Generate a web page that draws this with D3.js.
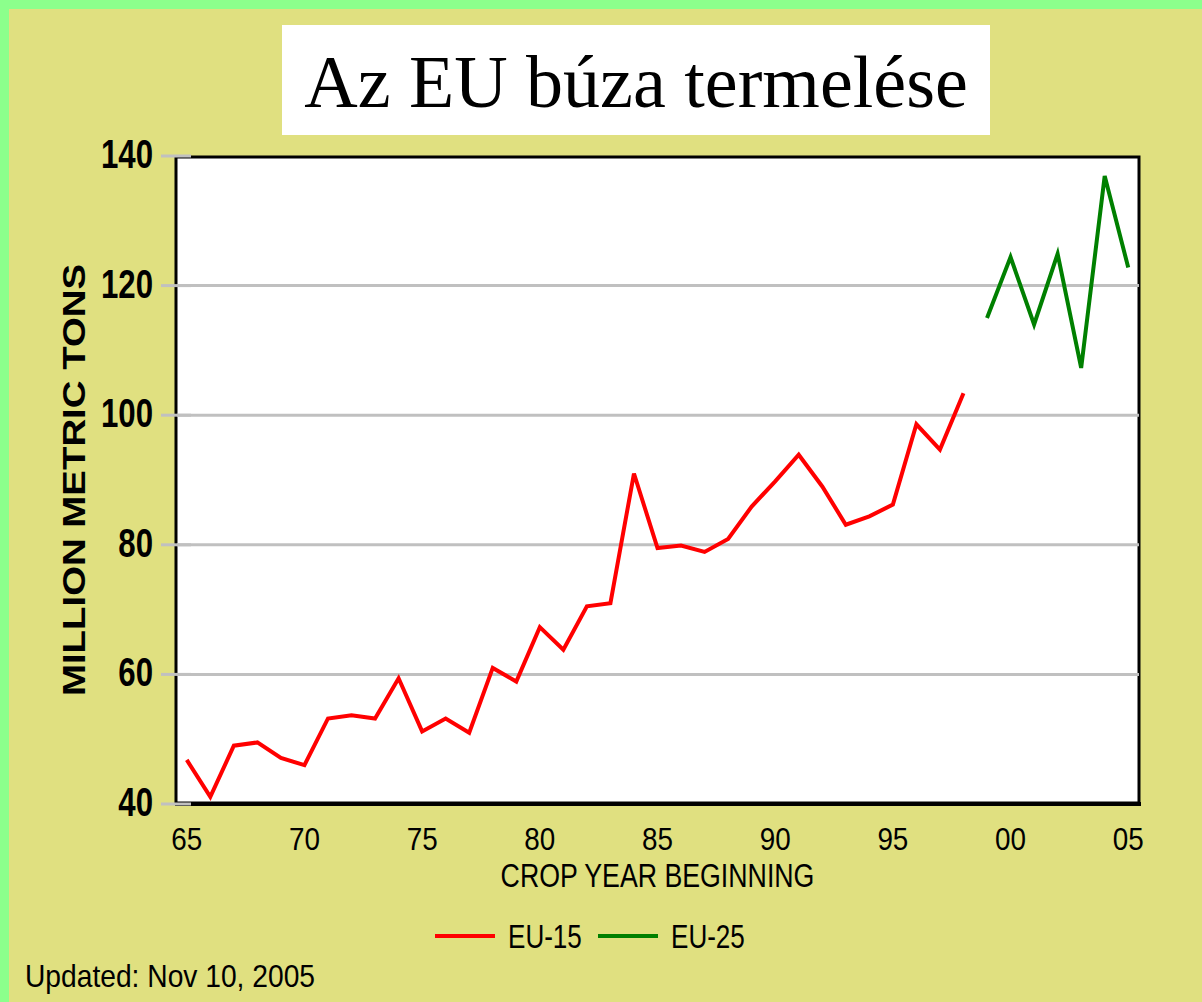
<!DOCTYPE html>
<html>
<head>
<meta charset="utf-8">
<script src="https://cdn.jsdelivr.net/npm/d3@7"></script>
<style>
  body { margin: 0; background: #E0E080; }
  svg { display: block; }
</style>
</head>
<body>
<div id="chart"></div>
<script>
// values (million metric tons)
const eu15Years = d3.range(1965, 1999);
const eu15 = [46.8, 41.1, 49.0, 49.5, 47.1, 46.0, 53.2, 53.7, 53.2, 59.4,
              51.2, 53.2, 51.0, 61.0, 58.9, 67.3, 63.8, 70.5, 71.0, 91.0,
              79.5, 79.9, 78.9, 80.9, 85.9, 89.8, 93.9, 89.0, 83.1, 84.4,
              86.2, 98.6, 94.7, 103.4];
const eu25Years = d3.range(1999, 2006);
const eu25 = [115.0, 124.4, 114.0, 124.9, 107.3, 136.9, 122.8];

const yTicks = [40, 60, 80, 100, 120, 140];
const xTicks = [1965, 1970, 1975, 1980, 1985, 1990, 1995, 2000, 2005];
const xTickLabels = ["65", "70", "75", "80", "85", "90", "95", "00", "05"];
const seriesNames = ["EU-15", "EU-25"];
const seriesColors = ["#FF0000", "#008000"];

const W = 1202, H = 1002;
const plot = {left: 175, right: 1140, top: 156, bottom: 804};

const xScale = d3.scaleLinear()
  .domain([1964.5, 2005.5])
  .range([plot.left, plot.right]);

const yScale = d3.scaleLinear()
  .domain([40, 140])
  .range([plot.bottom, plot.top]);

const line = d3.line()
  .x(d => xScale(d[0]))
  .y(d => yScale(d[1]));

const svg = d3.select("#chart").append("svg")
  .attr("width", W)
  .attr("height", H);

// page background + green edge on top and left
svg.append("rect").attr("width", W).attr("height", H).attr("fill", "#E0E080");
svg.append("rect").attr("width", W).attr("height", 9).attr("fill", "#8CFF8C");
svg.append("rect").attr("width", 9).attr("height", H).attr("fill", "#8CFF8C");

// title box
svg.append("rect")
  .attr("x", 282).attr("y", 25)
  .attr("width", 708).attr("height", 110)
  .attr("fill", "#fff");

svg.append("text")
  .attr("x", 636).attr("y", 107)
  .attr("text-anchor", "middle")
  .style("font-family", "'Liberation Serif', 'Times New Roman', serif")
  .style("font-size", "74px")
  .style("fill", "#000")
  .text("Az EU búza termelése");

// plot area
svg.append("rect")
  .attr("x", plot.left + 1).attr("y", plot.top + 1)
  .attr("width", plot.right - plot.left - 2)
  .attr("height", plot.bottom - plot.top - 2)
  .attr("fill", "#fff")
  .attr("stroke", "#000")
  .attr("stroke-width", 3);

svg.append("line")
  .attr("x1", plot.left).attr("x2", plot.right + 1)
  .attr("y1", plot.bottom).attr("y2", plot.bottom)
  .attr("stroke", "#000").attr("stroke-width", 4);

// gridlines
svg.append("g")
  .selectAll("line")
  .data(yTicks.filter(d => d > 40 && d < 140))
  .join("line")
    .attr("x1", plot.left + 2).attr("x2", plot.right - 1)
    .attr("y1", d => yScale(d)).attr("y2", d => yScale(d))
    .attr("stroke", "#C0C0C0").attr("stroke-width", 3);

// tick stubs
svg.append("g")
  .selectAll("line")
  .data(yTicks)
  .join("line")
    .attr("x1", 161).attr("x2", 191)
    .attr("y1", d => yScale(d)).attr("y2", d => yScale(d))
    .attr("stroke", "#C0C0C0").attr("stroke-width", 3);

// y tick labels
svg.append("g")
  .selectAll("text")
  .data(yTicks)
  .join("text")
    .attr("transform", d => `translate(153, ${yScale(d) + 12}) scale(0.78, 1)`)
    .attr("text-anchor", "end")
    .style("font-family", "'Liberation Sans', Arial, sans-serif")
    .style("font-weight", "bold")
    .style("font-size", "40px")
    .style("fill", "#000")
    .text(d => d);

// x tick labels
svg.append("g")
  .selectAll("text")
  .data(xTicks)
  .join("text")
    .attr("transform", d => `translate(${xScale(d)}, 850) scale(0.87, 1)`)
    .attr("text-anchor", "middle")
    .style("font-family", "'Liberation Sans', Arial, sans-serif")
    .style("font-size", "32px")
    .style("fill", "#000")
    .text((d, i) => xTickLabels[i]);

// axis titles
svg.append("text")
  .attr("transform", `translate(${(plot.left + plot.right) / 2}, 887) scale(0.81, 1)`)
  .attr("text-anchor", "middle")
  .style("font-family", "'Liberation Sans', Arial, sans-serif")
  .style("font-size", "33px")
  .style("fill", "#000")
  .text("CROP YEAR BEGINNING");

svg.append("text")
  .attr("transform", `translate(85, ${(plot.top + plot.bottom) / 2}) rotate(-90) scale(1.2, 1)`)
  .attr("text-anchor", "middle")
  .style("font-family", "'Liberation Sans', Arial, sans-serif")
  .style("font-weight", "bold")
  .style("font-size", "32px")
  .style("fill", "#000")
  .text("MILLION METRIC TONS");

// series lines
const series = [
  eu15Years.map((yr, i) => [yr, eu15[i]]),
  eu25Years.map((yr, i) => [yr, eu25[i]])
];

series.forEach((data, i) => {
  svg.append("path")
    .attr("d", line(data))
    .attr("fill", "none")
    .attr("stroke", seriesColors[i])
    .attr("stroke-width", 4)
    .attr("stroke-linejoin", "miter");
});

// legend
const legendX = [435, 598];
seriesNames.forEach((name, i) => {
  svg.append("line")
    .attr("x1", legendX[i]).attr("x2", legendX[i] + 60)
    .attr("y1", 936).attr("y2", 936)
    .attr("stroke", seriesColors[i]).attr("stroke-width", 4);
  svg.append("text")
    .attr("transform", `translate(${legendX[i] + 73}, 948) scale(0.79, 1)`)
    .style("font-family", "'Liberation Sans', Arial, sans-serif")
    .style("font-size", "33px")
    .style("fill", "#000")
    .text(name);
});

// footer
svg.append("text")
  .attr("transform", "translate(25, 987) scale(0.91, 1)")
  .style("font-family", "'Liberation Sans', Arial, sans-serif")
  .style("font-size", "31px")
  .style("fill", "#000")
  .text("Updated: Nov 10, 2005");
</script>
</body>
</html>
